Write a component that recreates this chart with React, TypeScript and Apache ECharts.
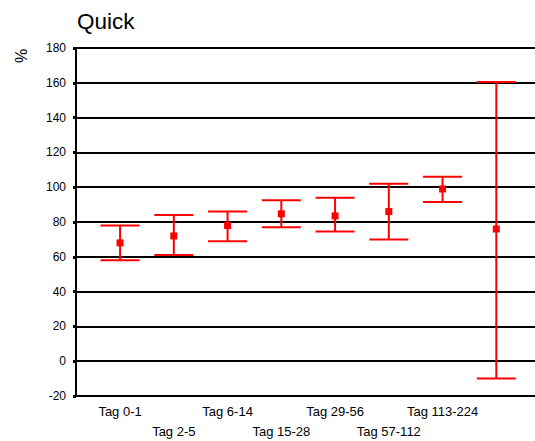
import React, { useEffect, useRef } from "react";
import * as echarts from "echarts";

const categories = [
  "Tag 0-1",
  "Tag 2-5",
  "Tag 6-14",
  "Tag 15-28",
  "Tag 29-56",
  "Tag 57-112",
  "Tag 113-224",
  "Tag 225-448",
];
const means = [68, 72, 78, 84.7, 83.5, 86, 99, 76];
const lows = [58, 61, 69, 77, 74.5, 70, 91.5, -10];
const highs = [78, 84, 86, 92.5, 94, 102, 106, 160.5];
const yTicks = { min: -20, max: 180, step: 20 };

const RED = "#ff0000";
const FONT = "'Liberation Sans', Arial, sans-serif";

export default function App() {
  const ref = useRef<HTMLDivElement>(null);

  useEffect(() => {
    if (!ref.current) return;
    const chart = echarts.init(ref.current, undefined, { renderer: "svg" });

    const data = categories.map((_, i) => [i + 1, lows[i], means[i], highs[i]]);

    chart.setOption({
      animation: false,
      backgroundColor: "#ffffff",
      title: {
        text: "Quick",
        left: 77,
        top: 10,
        padding: 0,
        textStyle: { fontFamily: FONT, fontSize: 22.5, fontWeight: "normal", color: "#000" },
      },
      graphic: [
        {
          type: "text",
          x: 13,
          y: 63,
          rotation: Math.PI / 2,
          style: { text: "%", fontFamily: FONT, fontSize: 16, fill: "#000" },
        },
      ],
      grid: { left: 76, right: 0, top: 48, bottom: 45, outerBoundsMode: "none" },
      xAxis: {
        type: "value",
        min: 0.18,
        max: 8.72,
        axisLine: { show: false },
        axisTick: { show: false },
        splitLine: { show: false },
        axisLabel: {
          customValues: categories.map((_, i) => i + 1),
          margin: 5,
          fontFamily: FONT,
          fontSize: 13,
          color: "#000",
          lineHeight: 20,
          formatter: (v: number) => {
            const i = Math.round(v) - 1;
            const name = categories[i] ?? "";
            return i % 2 === 1 ? "\n" + name : name;
          },
        },
      },
      yAxis: {
        type: "value",
        min: yTicks.min,
        max: yTicks.max,
        interval: yTicks.step,
        axisLine: { show: true, lineStyle: { color: "#000", width: 2 } },
        axisTick: { show: true, length: 3, lineStyle: { color: "#000", width: 3 } },
        splitLine: { show: true, lineStyle: { color: "#000", width: 2 } },
        axisLabel: { fontFamily: FONT, fontSize: 12, color: "#000", margin: 10 },
      },
      series: [
        {
          type: "custom",
          data,
          encode: { x: 0, y: [1, 2, 3] },
          renderItem: (_params: any, api: any) => {
            const x = api.value(0);
            const lo = api.coord([x, api.value(1)]);
            const mid = api.coord([x, api.value(2)]);
            const hi = api.coord([x, api.value(3)]);
            const half = 19.5;
            const ls = { stroke: RED, lineWidth: 2 };
            return {
              type: "group",
              children: [
                { type: "line", shape: { x1: hi[0], y1: hi[1], x2: lo[0], y2: lo[1] }, style: ls },
                { type: "line", shape: { x1: hi[0] - half, y1: hi[1], x2: hi[0] + half, y2: hi[1] }, style: ls },
                { type: "line", shape: { x1: lo[0] - half, y1: lo[1], x2: lo[0] + half, y2: lo[1] }, style: ls },
                { type: "rect", shape: { x: mid[0] - 3.5, y: mid[1] - 3.5, width: 7, height: 7 }, style: { fill: RED } },
              ],
            };
          },
        },
      ],
    });

    return () => chart.dispose();
  }, []);

  return (
    <div
      ref={ref}
      style={{ position: "fixed", left: 0, top: 0, width: 535, height: 441 }}
    />
  );
}
